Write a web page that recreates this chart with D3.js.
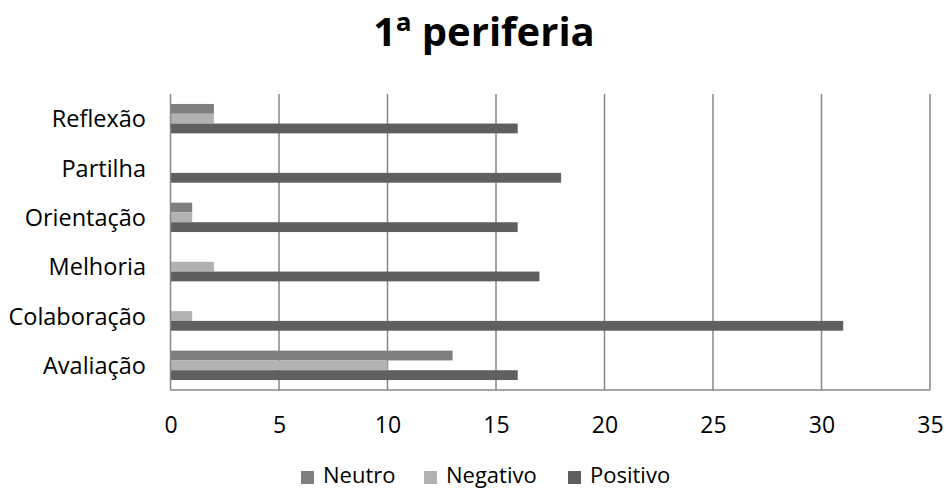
<!DOCTYPE html>
<html><head><meta charset="utf-8">
<script src="https://cdn.jsdelivr.net/npm/d3@7"></script>
<style>body{margin:0;background:#fff}svg{display:block}</style>
</head><body>
<svg id="c" width="946" height="490"></svg>
<script>
const categories = ["Avaliação","Colaboração","Melhoria","Orientação","Partilha","Reflexão"];
const seriesNames = ["Neutro","Negativo","Positivo"];
const neutro   = [13, 0, 0, 1, 0, 2];
const negativo = [10, 1, 2, 1, 0, 2];
const positivo = [16, 31, 17, 16, 18, 16];
const xTicks = [0,5,10,15,20,25,30,35];
const colors = ["#7f7f7f","#b2b2b2","#5f5f5f"];
const title = "1ª periferia";

const values = [neutro, negativo, positivo];
const font = "'Open Sans', sans-serif";
const svg = d3.select("#c");
const L = 170.5, R = 930, T = 94, B = 390;

const x = d3.scaleLinear().domain([0,35]).range([L,R]);
const y = d3.scaleBand().domain(categories.slice().reverse()).range([T,B]).paddingInner(0).paddingOuter(0);
const inner = d3.scaleBand().domain(seriesNames).range([0, 29.4]);

svg.append("text").attr("x", 484).attr("y", 46).attr("text-anchor","middle")
  .attr("font-family", font).attr("font-weight","bold").attr("font-size", 40).attr("fill","#000").text(title);

// gridlines
svg.append("g").selectAll("line").data(xTicks.slice(1)).join("line")
  .attr("x1", d=>x(d)).attr("x2", d=>x(d)).attr("y1", T).attr("y2", B)
  .attr("stroke","#868686").attr("stroke-width",1.5);

// bars
categories.forEach((c,i)=>{
  const g = svg.append("g").attr("transform",`translate(0,${y(c)+ (y.bandwidth()-29.4)/2})`);
  seriesNames.forEach((s,j)=>{
    g.append("rect").attr("x", x(0)).attr("y", inner(s))
      .attr("width", x(values[j][i]) - x(0)).attr("height", inner.bandwidth())
      .attr("fill", colors[j]);
  });
});

// axes lines
svg.append("line").attr("x1",L).attr("x2",R).attr("y1",B).attr("y2",B).attr("stroke","#868686").attr("stroke-width",1.5);
svg.append("line").attr("x1",L).attr("x2",L).attr("y1",T).attr("y2",B).attr("stroke","#868686").attr("stroke-width",1.5);

// x tick labels
const xAxis = d3.axisBottom(x).tickValues(xTicks).tickSize(0).tickPadding(0);
const gx = svg.append("g").attr("transform",`translate(0,${B})`).call(xAxis);
gx.select(".domain").remove();
gx.selectAll("text").attr("font-family",font).attr("font-size",23).attr("fill","#000").attr("dy",null).attr("y",43);

// y labels
const yAxis = d3.axisLeft(y).tickSize(0).tickPadding(0);
const gy = svg.append("g").attr("transform",`translate(146,0)`).call(yAxis);
gy.select(".domain").remove();
gy.selectAll("text").attr("font-family",font).attr("font-size",23.5).attr("fill","#000").attr("x",0).attr("dy","0.37em");

// legend
const legX = [301, 424, 568];
seriesNames.forEach((s,j)=>{
  svg.append("rect").attr("x",legX[j]).attr("y",471).attr("width",13).attr("height",13).attr("fill",colors[j]);
  svg.append("text").attr("x",legX[j]+22).attr("y",483).attr("font-family",font).attr("font-size",22).attr("fill","#000").text(s);
});
</script>
</body></html>
